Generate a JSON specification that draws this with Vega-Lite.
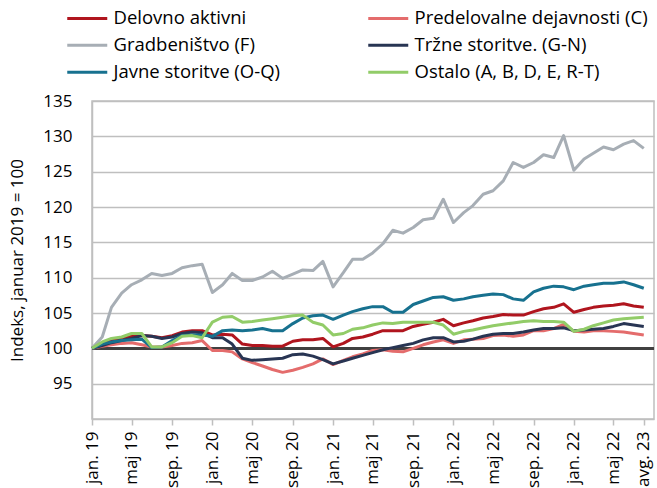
{
  "$schema": "https://vega.github.io/schema/vega-lite/v6.json",
  "width": 562,
  "height": 318,
  "autosize": {"type": "none"},
  "padding": {"left": 92, "top": 101, "right": 3, "bottom": 69},
  "background": "white",
  "view": {"stroke": "#BFBFBF", "strokeWidth": 1.5},
  "config": {
    "font": "Open Sans",
    "view": {"stroke": "#BFBFBF", "strokeWidth": 1.5}
  },
  "data": {"values": [
{"m":"2019-01","s":"Delovno aktivni","v":100.0},{"m":"2019-02","s":"Delovno aktivni","v":100.7},{"m":"2019-03","s":"Delovno aktivni","v":101.1},{"m":"2019-04","s":"Delovno aktivni","v":101.4},{"m":"2019-05","s":"Delovno aktivni","v":101.7},{"m":"2019-06","s":"Delovno aktivni","v":101.8},{"m":"2019-07","s":"Delovno aktivni","v":101.7},{"m":"2019-08","s":"Delovno aktivni","v":101.5},{"m":"2019-09","s":"Delovno aktivni","v":101.8},{"m":"2019-10","s":"Delovno aktivni","v":102.3},{"m":"2019-11","s":"Delovno aktivni","v":102.5},{"m":"2019-12","s":"Delovno aktivni","v":102.5},
{"m":"2020-01","s":"Delovno aktivni","v":101.9},{"m":"2020-02","s":"Delovno aktivni","v":102.0},{"m":"2020-03","s":"Delovno aktivni","v":101.9},{"m":"2020-04","s":"Delovno aktivni","v":100.6},{"m":"2020-05","s":"Delovno aktivni","v":100.4},{"m":"2020-06","s":"Delovno aktivni","v":100.4},{"m":"2020-07","s":"Delovno aktivni","v":100.3},{"m":"2020-08","s":"Delovno aktivni","v":100.3},{"m":"2020-09","s":"Delovno aktivni","v":101.0},{"m":"2020-10","s":"Delovno aktivni","v":101.2},{"m":"2020-11","s":"Delovno aktivni","v":101.2},{"m":"2020-12","s":"Delovno aktivni","v":101.4},
{"m":"2021-01","s":"Delovno aktivni","v":100.2},{"m":"2021-02","s":"Delovno aktivni","v":100.7},{"m":"2021-03","s":"Delovno aktivni","v":101.4},{"m":"2021-04","s":"Delovno aktivni","v":101.6},{"m":"2021-05","s":"Delovno aktivni","v":102.0},{"m":"2021-06","s":"Delovno aktivni","v":102.5},{"m":"2021-07","s":"Delovno aktivni","v":102.5},{"m":"2021-08","s":"Delovno aktivni","v":102.5},{"m":"2021-09","s":"Delovno aktivni","v":103.1},{"m":"2021-10","s":"Delovno aktivni","v":103.4},{"m":"2021-11","s":"Delovno aktivni","v":103.7},{"m":"2021-12","s":"Delovno aktivni","v":104.1},
{"m":"2022-01","s":"Delovno aktivni","v":103.2},{"m":"2022-02","s":"Delovno aktivni","v":103.6},{"m":"2022-03","s":"Delovno aktivni","v":103.9},{"m":"2022-04","s":"Delovno aktivni","v":104.3},{"m":"2022-05","s":"Delovno aktivni","v":104.5},{"m":"2022-06","s":"Delovno aktivni","v":104.8},{"m":"2022-07","s":"Delovno aktivni","v":104.7},{"m":"2022-08","s":"Delovno aktivni","v":104.7},{"m":"2022-09","s":"Delovno aktivni","v":105.2},{"m":"2022-10","s":"Delovno aktivni","v":105.6},{"m":"2022-11","s":"Delovno aktivni","v":105.8},{"m":"2022-12","s":"Delovno aktivni","v":106.3},
{"m":"2023-01","s":"Delovno aktivni","v":105.1},{"m":"2023-02","s":"Delovno aktivni","v":105.5},{"m":"2023-03","s":"Delovno aktivni","v":105.8},{"m":"2023-04","s":"Delovno aktivni","v":106.0},{"m":"2023-05","s":"Delovno aktivni","v":106.1},{"m":"2023-06","s":"Delovno aktivni","v":106.3},{"m":"2023-07","s":"Delovno aktivni","v":106.0},{"m":"2023-08","s":"Delovno aktivni","v":105.8},

{"m":"2019-01","s":"Predelovalne dejavnosti (C)","v":100.0},{"m":"2019-02","s":"Predelovalne dejavnosti (C)","v":100.3},{"m":"2019-03","s":"Predelovalne dejavnosti (C)","v":100.5},{"m":"2019-04","s":"Predelovalne dejavnosti (C)","v":100.7},{"m":"2019-05","s":"Predelovalne dejavnosti (C)","v":100.8},{"m":"2019-06","s":"Predelovalne dejavnosti (C)","v":100.5},{"m":"2019-07","s":"Predelovalne dejavnosti (C)","v":100.2},{"m":"2019-08","s":"Predelovalne dejavnosti (C)","v":100.2},{"m":"2019-09","s":"Predelovalne dejavnosti (C)","v":100.4},{"m":"2019-10","s":"Predelovalne dejavnosti (C)","v":100.7},{"m":"2019-11","s":"Predelovalne dejavnosti (C)","v":100.8},{"m":"2019-12","s":"Predelovalne dejavnosti (C)","v":101.1},
{"m":"2020-01","s":"Predelovalne dejavnosti (C)","v":99.7},{"m":"2020-02","s":"Predelovalne dejavnosti (C)","v":99.7},{"m":"2020-03","s":"Predelovalne dejavnosti (C)","v":99.5},{"m":"2020-04","s":"Predelovalne dejavnosti (C)","v":98.5},{"m":"2020-05","s":"Predelovalne dejavnosti (C)","v":98.0},{"m":"2020-06","s":"Predelovalne dejavnosti (C)","v":97.5},{"m":"2020-07","s":"Predelovalne dejavnosti (C)","v":97.0},{"m":"2020-08","s":"Predelovalne dejavnosti (C)","v":96.6},{"m":"2020-09","s":"Predelovalne dejavnosti (C)","v":96.9},{"m":"2020-10","s":"Predelovalne dejavnosti (C)","v":97.3},{"m":"2020-11","s":"Predelovalne dejavnosti (C)","v":97.8},{"m":"2020-12","s":"Predelovalne dejavnosti (C)","v":98.5},
{"m":"2021-01","s":"Predelovalne dejavnosti (C)","v":97.7},{"m":"2021-02","s":"Predelovalne dejavnosti (C)","v":98.3},{"m":"2021-03","s":"Predelovalne dejavnosti (C)","v":98.8},{"m":"2021-04","s":"Predelovalne dejavnosti (C)","v":99.2},{"m":"2021-05","s":"Predelovalne dejavnosti (C)","v":99.7},{"m":"2021-06","s":"Predelovalne dejavnosti (C)","v":99.8},{"m":"2021-07","s":"Predelovalne dejavnosti (C)","v":99.6},{"m":"2021-08","s":"Predelovalne dejavnosti (C)","v":99.5},{"m":"2021-09","s":"Predelovalne dejavnosti (C)","v":100.0},{"m":"2021-10","s":"Predelovalne dejavnosti (C)","v":100.5},{"m":"2021-11","s":"Predelovalne dejavnosti (C)","v":100.9},{"m":"2021-12","s":"Predelovalne dejavnosti (C)","v":101.2},
{"m":"2022-01","s":"Predelovalne dejavnosti (C)","v":100.7},{"m":"2022-02","s":"Predelovalne dejavnosti (C)","v":101.2},{"m":"2022-03","s":"Predelovalne dejavnosti (C)","v":101.3},{"m":"2022-04","s":"Predelovalne dejavnosti (C)","v":101.4},{"m":"2022-05","s":"Predelovalne dejavnosti (C)","v":101.8},{"m":"2022-06","s":"Predelovalne dejavnosti (C)","v":101.9},{"m":"2022-07","s":"Predelovalne dejavnosti (C)","v":101.7},{"m":"2022-08","s":"Predelovalne dejavnosti (C)","v":101.9},{"m":"2022-09","s":"Predelovalne dejavnosti (C)","v":102.5},{"m":"2022-10","s":"Predelovalne dejavnosti (C)","v":102.5},{"m":"2022-11","s":"Predelovalne dejavnosti (C)","v":102.8},{"m":"2022-12","s":"Predelovalne dejavnosti (C)","v":103.4},
{"m":"2023-01","s":"Predelovalne dejavnosti (C)","v":102.4},{"m":"2023-02","s":"Predelovalne dejavnosti (C)","v":102.3},{"m":"2023-03","s":"Predelovalne dejavnosti (C)","v":102.5},{"m":"2023-04","s":"Predelovalne dejavnosti (C)","v":102.5},{"m":"2023-05","s":"Predelovalne dejavnosti (C)","v":102.4},{"m":"2023-06","s":"Predelovalne dejavnosti (C)","v":102.3},{"m":"2023-07","s":"Predelovalne dejavnosti (C)","v":102.1},{"m":"2023-08","s":"Predelovalne dejavnosti (C)","v":101.9},

{"m":"2019-01","s":"Gradbeništvo (F)","v":100.0},{"m":"2019-02","s":"Gradbeništvo (F)","v":101.6},{"m":"2019-03","s":"Gradbeništvo (F)","v":105.8},{"m":"2019-04","s":"Gradbeništvo (F)","v":107.8},{"m":"2019-05","s":"Gradbeništvo (F)","v":109.0},{"m":"2019-06","s":"Gradbeništvo (F)","v":109.7},{"m":"2019-07","s":"Gradbeništvo (F)","v":110.6},{"m":"2019-08","s":"Gradbeništvo (F)","v":110.3},{"m":"2019-09","s":"Gradbeništvo (F)","v":110.6},{"m":"2019-10","s":"Gradbeništvo (F)","v":111.4},{"m":"2019-11","s":"Gradbeništvo (F)","v":111.7},{"m":"2019-12","s":"Gradbeništvo (F)","v":111.9},
{"m":"2020-01","s":"Gradbeništvo (F)","v":107.9},{"m":"2020-02","s":"Gradbeništvo (F)","v":109.0},{"m":"2020-03","s":"Gradbeništvo (F)","v":110.6},{"m":"2020-04","s":"Gradbeništvo (F)","v":109.6},{"m":"2020-05","s":"Gradbeništvo (F)","v":109.6},{"m":"2020-06","s":"Gradbeništvo (F)","v":110.1},{"m":"2020-07","s":"Gradbeništvo (F)","v":110.9},{"m":"2020-08","s":"Gradbeništvo (F)","v":109.9},{"m":"2020-09","s":"Gradbeništvo (F)","v":110.5},{"m":"2020-10","s":"Gradbeništvo (F)","v":111.1},{"m":"2020-11","s":"Gradbeništvo (F)","v":111.0},{"m":"2020-12","s":"Gradbeništvo (F)","v":112.3},
{"m":"2021-01","s":"Gradbeništvo (F)","v":108.7},{"m":"2021-02","s":"Gradbeništvo (F)","v":110.7},{"m":"2021-03","s":"Gradbeništvo (F)","v":112.6},{"m":"2021-04","s":"Gradbeništvo (F)","v":112.6},{"m":"2021-05","s":"Gradbeništvo (F)","v":113.5},{"m":"2021-06","s":"Gradbeništvo (F)","v":114.8},{"m":"2021-07","s":"Gradbeništvo (F)","v":116.7},{"m":"2021-08","s":"Gradbeništvo (F)","v":116.3},{"m":"2021-09","s":"Gradbeništvo (F)","v":117.1},{"m":"2021-10","s":"Gradbeništvo (F)","v":118.2},{"m":"2021-11","s":"Gradbeništvo (F)","v":118.4},{"m":"2021-12","s":"Gradbeništvo (F)","v":121.1},
{"m":"2022-01","s":"Gradbeništvo (F)","v":117.8},{"m":"2022-02","s":"Gradbeništvo (F)","v":119.2},{"m":"2022-03","s":"Gradbeništvo (F)","v":120.2},{"m":"2022-04","s":"Gradbeništvo (F)","v":121.8},{"m":"2022-05","s":"Gradbeništvo (F)","v":122.3},{"m":"2022-06","s":"Gradbeništvo (F)","v":123.7},{"m":"2022-07","s":"Gradbeništvo (F)","v":126.3},{"m":"2022-08","s":"Gradbeništvo (F)","v":125.6},{"m":"2022-09","s":"Gradbeništvo (F)","v":126.3},{"m":"2022-10","s":"Gradbeništvo (F)","v":127.4},{"m":"2022-11","s":"Gradbeništvo (F)","v":127.0},{"m":"2022-12","s":"Gradbeništvo (F)","v":130.1},
{"m":"2023-01","s":"Gradbeništvo (F)","v":125.2},{"m":"2023-02","s":"Gradbeništvo (F)","v":126.8},{"m":"2023-03","s":"Gradbeništvo (F)","v":127.6},{"m":"2023-04","s":"Gradbeništvo (F)","v":128.5},{"m":"2023-05","s":"Gradbeništvo (F)","v":128.1},{"m":"2023-06","s":"Gradbeništvo (F)","v":128.9},{"m":"2023-07","s":"Gradbeništvo (F)","v":129.4},{"m":"2023-08","s":"Gradbeništvo (F)","v":128.3},

{"m":"2019-01","s":"Tržne storitve. (G-N)","v":100.0},{"m":"2019-02","s":"Tržne storitve. (G-N)","v":100.4},{"m":"2019-03","s":"Tržne storitve. (G-N)","v":100.8},{"m":"2019-04","s":"Tržne storitve. (G-N)","v":101.1},{"m":"2019-05","s":"Tržne storitve. (G-N)","v":101.4},{"m":"2019-06","s":"Tržne storitve. (G-N)","v":101.8},{"m":"2019-07","s":"Tržne storitve. (G-N)","v":101.7},{"m":"2019-08","s":"Tržne storitve. (G-N)","v":101.4},{"m":"2019-09","s":"Tržne storitve. (G-N)","v":101.6},{"m":"2019-10","s":"Tržne storitve. (G-N)","v":102.1},{"m":"2019-11","s":"Tržne storitve. (G-N)","v":102.3},{"m":"2019-12","s":"Tržne storitve. (G-N)","v":102.2},
{"m":"2020-01","s":"Tržne storitve. (G-N)","v":101.5},{"m":"2020-02","s":"Tržne storitve. (G-N)","v":101.5},{"m":"2020-03","s":"Tržne storitve. (G-N)","v":100.6},{"m":"2020-04","s":"Tržne storitve. (G-N)","v":98.6},{"m":"2020-05","s":"Tržne storitve. (G-N)","v":98.3},{"m":"2020-06","s":"Tržne storitve. (G-N)","v":98.4},{"m":"2020-07","s":"Tržne storitve. (G-N)","v":98.5},{"m":"2020-08","s":"Tržne storitve. (G-N)","v":98.6},{"m":"2020-09","s":"Tržne storitve. (G-N)","v":99.1},{"m":"2020-10","s":"Tržne storitve. (G-N)","v":99.2},{"m":"2020-11","s":"Tržne storitve. (G-N)","v":98.9},{"m":"2020-12","s":"Tržne storitve. (G-N)","v":98.4},
{"m":"2021-01","s":"Tržne storitve. (G-N)","v":97.8},{"m":"2021-02","s":"Tržne storitve. (G-N)","v":98.2},{"m":"2021-03","s":"Tržne storitve. (G-N)","v":98.6},{"m":"2021-04","s":"Tržne storitve. (G-N)","v":99.0},{"m":"2021-05","s":"Tržne storitve. (G-N)","v":99.4},{"m":"2021-06","s":"Tržne storitve. (G-N)","v":99.8},{"m":"2021-07","s":"Tržne storitve. (G-N)","v":100.1},{"m":"2021-08","s":"Tržne storitve. (G-N)","v":100.4},{"m":"2021-09","s":"Tržne storitve. (G-N)","v":100.7},{"m":"2021-10","s":"Tržne storitve. (G-N)","v":101.2},{"m":"2021-11","s":"Tržne storitve. (G-N)","v":101.5},{"m":"2021-12","s":"Tržne storitve. (G-N)","v":101.5},
{"m":"2022-01","s":"Tržne storitve. (G-N)","v":100.9},{"m":"2022-02","s":"Tržne storitve. (G-N)","v":101.0},{"m":"2022-03","s":"Tržne storitve. (G-N)","v":101.3},{"m":"2022-04","s":"Tržne storitve. (G-N)","v":101.7},{"m":"2022-05","s":"Tržne storitve. (G-N)","v":102.0},{"m":"2022-06","s":"Tržne storitve. (G-N)","v":102.1},{"m":"2022-07","s":"Tržne storitve. (G-N)","v":102.1},{"m":"2022-08","s":"Tržne storitve. (G-N)","v":102.3},{"m":"2022-09","s":"Tržne storitve. (G-N)","v":102.6},{"m":"2022-10","s":"Tržne storitve. (G-N)","v":102.8},{"m":"2022-11","s":"Tržne storitve. (G-N)","v":102.8},{"m":"2022-12","s":"Tržne storitve. (G-N)","v":102.9},
{"m":"2023-01","s":"Tržne storitve. (G-N)","v":102.5},{"m":"2023-02","s":"Tržne storitve. (G-N)","v":102.6},{"m":"2023-03","s":"Tržne storitve. (G-N)","v":102.7},{"m":"2023-04","s":"Tržne storitve. (G-N)","v":102.8},{"m":"2023-05","s":"Tržne storitve. (G-N)","v":103.1},{"m":"2023-06","s":"Tržne storitve. (G-N)","v":103.5},{"m":"2023-07","s":"Tržne storitve. (G-N)","v":103.3},{"m":"2023-08","s":"Tržne storitve. (G-N)","v":103.1},

{"m":"2019-01","s":"Javne storitve (O-Q)","v":100.0},{"m":"2019-02","s":"Javne storitve (O-Q)","v":100.6},{"m":"2019-03","s":"Javne storitve (O-Q)","v":100.9},{"m":"2019-04","s":"Javne storitve (O-Q)","v":101.1},{"m":"2019-05","s":"Javne storitve (O-Q)","v":101.2},{"m":"2019-06","s":"Javne storitve (O-Q)","v":101.3},{"m":"2019-07","s":"Javne storitve (O-Q)","v":100.1},{"m":"2019-08","s":"Javne storitve (O-Q)","v":100.2},{"m":"2019-09","s":"Javne storitve (O-Q)","v":101.1},{"m":"2019-10","s":"Javne storitve (O-Q)","v":101.8},{"m":"2019-11","s":"Javne storitve (O-Q)","v":101.9},{"m":"2019-12","s":"Javne storitve (O-Q)","v":101.9},
{"m":"2020-01","s":"Javne storitve (O-Q)","v":101.7},{"m":"2020-02","s":"Javne storitve (O-Q)","v":102.5},{"m":"2020-03","s":"Javne storitve (O-Q)","v":102.6},{"m":"2020-04","s":"Javne storitve (O-Q)","v":102.5},{"m":"2020-05","s":"Javne storitve (O-Q)","v":102.6},{"m":"2020-06","s":"Javne storitve (O-Q)","v":102.8},{"m":"2020-07","s":"Javne storitve (O-Q)","v":102.5},{"m":"2020-08","s":"Javne storitve (O-Q)","v":102.5},{"m":"2020-09","s":"Javne storitve (O-Q)","v":103.5},{"m":"2020-10","s":"Javne storitve (O-Q)","v":104.3},{"m":"2020-11","s":"Javne storitve (O-Q)","v":104.6},{"m":"2020-12","s":"Javne storitve (O-Q)","v":104.7},
{"m":"2021-01","s":"Javne storitve (O-Q)","v":104.1},{"m":"2021-02","s":"Javne storitve (O-Q)","v":104.7},{"m":"2021-03","s":"Javne storitve (O-Q)","v":105.2},{"m":"2021-04","s":"Javne storitve (O-Q)","v":105.6},{"m":"2021-05","s":"Javne storitve (O-Q)","v":105.9},{"m":"2021-06","s":"Javne storitve (O-Q)","v":105.9},{"m":"2021-07","s":"Javne storitve (O-Q)","v":105.1},{"m":"2021-08","s":"Javne storitve (O-Q)","v":105.1},{"m":"2021-09","s":"Javne storitve (O-Q)","v":106.2},{"m":"2021-10","s":"Javne storitve (O-Q)","v":106.7},{"m":"2021-11","s":"Javne storitve (O-Q)","v":107.2},{"m":"2021-12","s":"Javne storitve (O-Q)","v":107.3},
{"m":"2022-01","s":"Javne storitve (O-Q)","v":106.8},{"m":"2022-02","s":"Javne storitve (O-Q)","v":107.0},{"m":"2022-03","s":"Javne storitve (O-Q)","v":107.3},{"m":"2022-04","s":"Javne storitve (O-Q)","v":107.5},{"m":"2022-05","s":"Javne storitve (O-Q)","v":107.7},{"m":"2022-06","s":"Javne storitve (O-Q)","v":107.6},{"m":"2022-07","s":"Javne storitve (O-Q)","v":107.0},{"m":"2022-08","s":"Javne storitve (O-Q)","v":106.8},{"m":"2022-09","s":"Javne storitve (O-Q)","v":108.0},{"m":"2022-10","s":"Javne storitve (O-Q)","v":108.5},{"m":"2022-11","s":"Javne storitve (O-Q)","v":108.8},{"m":"2022-12","s":"Javne storitve (O-Q)","v":108.7},
{"m":"2023-01","s":"Javne storitve (O-Q)","v":108.3},{"m":"2023-02","s":"Javne storitve (O-Q)","v":108.8},{"m":"2023-03","s":"Javne storitve (O-Q)","v":109.0},{"m":"2023-04","s":"Javne storitve (O-Q)","v":109.2},{"m":"2023-05","s":"Javne storitve (O-Q)","v":109.2},{"m":"2023-06","s":"Javne storitve (O-Q)","v":109.4},{"m":"2023-07","s":"Javne storitve (O-Q)","v":109.0},{"m":"2023-08","s":"Javne storitve (O-Q)","v":108.5},

{"m":"2019-01","s":"Ostalo (A, B, D, E, R-T)","v":100.0},{"m":"2019-02","s":"Ostalo (A, B, D, E, R-T)","v":100.9},{"m":"2019-03","s":"Ostalo (A, B, D, E, R-T)","v":101.4},{"m":"2019-04","s":"Ostalo (A, B, D, E, R-T)","v":101.6},{"m":"2019-05","s":"Ostalo (A, B, D, E, R-T)","v":102.1},{"m":"2019-06","s":"Ostalo (A, B, D, E, R-T)","v":102.1},{"m":"2019-07","s":"Ostalo (A, B, D, E, R-T)","v":100.2},{"m":"2019-08","s":"Ostalo (A, B, D, E, R-T)","v":100.2},{"m":"2019-09","s":"Ostalo (A, B, D, E, R-T)","v":100.8},{"m":"2019-10","s":"Ostalo (A, B, D, E, R-T)","v":101.7},{"m":"2019-11","s":"Ostalo (A, B, D, E, R-T)","v":101.8},{"m":"2019-12","s":"Ostalo (A, B, D, E, R-T)","v":101.5},
{"m":"2020-01","s":"Ostalo (A, B, D, E, R-T)","v":103.7},{"m":"2020-02","s":"Ostalo (A, B, D, E, R-T)","v":104.4},{"m":"2020-03","s":"Ostalo (A, B, D, E, R-T)","v":104.5},{"m":"2020-04","s":"Ostalo (A, B, D, E, R-T)","v":103.7},{"m":"2020-05","s":"Ostalo (A, B, D, E, R-T)","v":103.8},{"m":"2020-06","s":"Ostalo (A, B, D, E, R-T)","v":104.0},{"m":"2020-07","s":"Ostalo (A, B, D, E, R-T)","v":104.2},{"m":"2020-08","s":"Ostalo (A, B, D, E, R-T)","v":104.4},{"m":"2020-09","s":"Ostalo (A, B, D, E, R-T)","v":104.6},{"m":"2020-10","s":"Ostalo (A, B, D, E, R-T)","v":104.7},{"m":"2020-11","s":"Ostalo (A, B, D, E, R-T)","v":103.7},{"m":"2020-12","s":"Ostalo (A, B, D, E, R-T)","v":103.3},
{"m":"2021-01","s":"Ostalo (A, B, D, E, R-T)","v":101.9},{"m":"2021-02","s":"Ostalo (A, B, D, E, R-T)","v":102.1},{"m":"2021-03","s":"Ostalo (A, B, D, E, R-T)","v":102.7},{"m":"2021-04","s":"Ostalo (A, B, D, E, R-T)","v":102.9},{"m":"2021-05","s":"Ostalo (A, B, D, E, R-T)","v":103.3},{"m":"2021-06","s":"Ostalo (A, B, D, E, R-T)","v":103.6},{"m":"2021-07","s":"Ostalo (A, B, D, E, R-T)","v":103.5},{"m":"2021-08","s":"Ostalo (A, B, D, E, R-T)","v":103.7},{"m":"2021-09","s":"Ostalo (A, B, D, E, R-T)","v":103.7},{"m":"2021-10","s":"Ostalo (A, B, D, E, R-T)","v":103.7},{"m":"2021-11","s":"Ostalo (A, B, D, E, R-T)","v":103.7},{"m":"2021-12","s":"Ostalo (A, B, D, E, R-T)","v":103.3},
{"m":"2022-01","s":"Ostalo (A, B, D, E, R-T)","v":102.0},{"m":"2022-02","s":"Ostalo (A, B, D, E, R-T)","v":102.4},{"m":"2022-03","s":"Ostalo (A, B, D, E, R-T)","v":102.6},{"m":"2022-04","s":"Ostalo (A, B, D, E, R-T)","v":102.9},{"m":"2022-05","s":"Ostalo (A, B, D, E, R-T)","v":103.2},{"m":"2022-06","s":"Ostalo (A, B, D, E, R-T)","v":103.4},{"m":"2022-07","s":"Ostalo (A, B, D, E, R-T)","v":103.6},{"m":"2022-08","s":"Ostalo (A, B, D, E, R-T)","v":103.8},{"m":"2022-09","s":"Ostalo (A, B, D, E, R-T)","v":103.9},{"m":"2022-10","s":"Ostalo (A, B, D, E, R-T)","v":103.8},{"m":"2022-11","s":"Ostalo (A, B, D, E, R-T)","v":103.8},{"m":"2022-12","s":"Ostalo (A, B, D, E, R-T)","v":103.7},
{"m":"2023-01","s":"Ostalo (A, B, D, E, R-T)","v":102.4},{"m":"2023-02","s":"Ostalo (A, B, D, E, R-T)","v":102.7},{"m":"2023-03","s":"Ostalo (A, B, D, E, R-T)","v":103.2},{"m":"2023-04","s":"Ostalo (A, B, D, E, R-T)","v":103.6},{"m":"2023-05","s":"Ostalo (A, B, D, E, R-T)","v":104.0},{"m":"2023-06","s":"Ostalo (A, B, D, E, R-T)","v":104.2},{"m":"2023-07","s":"Ostalo (A, B, D, E, R-T)","v":104.3},{"m":"2023-08","s":"Ostalo (A, B, D, E, R-T)","v":104.4}
  ]},
  "layer": [
    {
      "mark": {"type": "rule", "color": "#404040", "strokeWidth": 2},
      "encoding": {
        "y": {
          "datum": 100, "type": "quantitative",
          "scale": {"domain": [90, 135], "zero": false, "nice": false},
          "axis": {
            "title": "Indeks, januar 2019 = 100",
            "titleFontSize": 17,
            "titleFontWeight": "normal",
            "titleColor": "#000000",
            "titlePadding": 16,
            "values": [95, 100, 105, 110, 115, 120, 125, 130, 135],
            "labelFontSize": 17,
            "labelColor": "#000000",
            "labelPadding": 20,
            "domain": true,
            "domainColor": "#BFBFBF",
            "domainWidth": 1.5,
            "ticks": false,
            "grid": true,
            "gridColor": "#BFBFBF",
            "gridWidth": 1.5
          }
        }
      }
    },
    {
      "mark": {"type": "line", "strokeWidth": 3, "strokeJoin": "round"},
      "encoding": {
        "x": {
          "field": "m", "type": "temporal",
          "scale": {"type": "utc", "domain": [{"year": 2019, "month": 1, "date": 1, "utc": true}, {"year": 2023, "month": 9, "date": 1, "utc": true}]},
          "axis": {
            "title": null,
            "values": [
              {"year": 2019, "month": 1, "date": 1, "utc": true},
              {"year": 2019, "month": 5, "date": 1, "utc": true},
              {"year": 2019, "month": 9, "date": 1, "utc": true},
              {"year": 2020, "month": 1, "date": 1, "utc": true},
              {"year": 2020, "month": 5, "date": 1, "utc": true},
              {"year": 2020, "month": 9, "date": 1, "utc": true},
              {"year": 2021, "month": 1, "date": 1, "utc": true},
              {"year": 2021, "month": 5, "date": 1, "utc": true},
              {"year": 2021, "month": 9, "date": 1, "utc": true},
              {"year": 2022, "month": 1, "date": 1, "utc": true},
              {"year": 2022, "month": 5, "date": 1, "utc": true},
              {"year": 2022, "month": 9, "date": 1, "utc": true},
              {"year": 2023, "month": 1, "date": 1, "utc": true},
              {"year": 2023, "month": 5, "date": 1, "utc": true},
              {"year": 2023, "month": 8, "date": 1, "utc": true}
            ],
            "labelExpr": "utcmonth(datum.value) == 7 ? 'avg. 23' : (utcmonth(datum.value) == 0 ? 'jan. ' : utcmonth(datum.value) == 4 ? 'maj ' : 'sep. ') + (utcyear(datum.value) == 2023 ? '22' : utcFormat(datum.value, '%y'))",
            "labelAngle": -90,
            "labelFontSize": 17,
            "labelColor": "#000000",
            "labelPadding": 6,
            "labelFlush": false,
            "labelOverlap": false,
            "domain": true,
            "domainColor": "#BFBFBF",
            "domainWidth": 1.5,
            "grid": false,
            "ticks": true,
            "tickColor": "#BFBFBF",
            "tickWidth": 1.5,
            "tickSize": 6
          }
        },
        "y": {
          "field": "v", "type": "quantitative",
          "scale": {"domain": [90, 135], "zero": false, "nice": false},
          "axis": {
            "title": "Indeks, januar 2019 = 100",
            "titleFontSize": 17,
            "titleFontWeight": "normal",
            "titleColor": "#000000",
            "titlePadding": 16,
            "values": [95, 100, 105, 110, 115, 120, 125, 130, 135],
            "labelFontSize": 17,
            "labelColor": "#000000",
            "labelPadding": 20,
            "domain": true,
            "domainColor": "#BFBFBF",
            "domainWidth": 1.5,
            "ticks": false,
            "grid": true,
            "gridColor": "#BFBFBF",
            "gridWidth": 1.5
          }
        },
        "color": {
          "field": "s", "type": "nominal",
          "scale": {
            "domain": ["Delovno aktivni", "Predelovalne dejavnosti (C)", "Gradbeništvo (F)", "Tržne storitve. (G-N)", "Javne storitve (O-Q)", "Ostalo (A, B, D, E, R-T)"],
            "range": ["#B0151E", "#E46C6C", "#A7AEB5", "#283553", "#17718F", "#92CC68"]
          },
          "legend": {
            "orient": "none",
            "legendX": -14,
            "legendY": -92,
            "direction": "horizontal",
            "columns": 2,
            "title": null,
            "symbolType": "M-4,0L4,0",
            "symbolSize": 100,
            "symbolStrokeWidth": 3,
            "symbolFillColor": "transparent",
            "labelFontSize": 18.5,
            "labelColor": "#000000",
            "labelOffset": 17,
            "labelLimit": 400,
            "rowPadding": 8,
            "columnPadding": 82
          }
        }
      }
    }
  ]
}
